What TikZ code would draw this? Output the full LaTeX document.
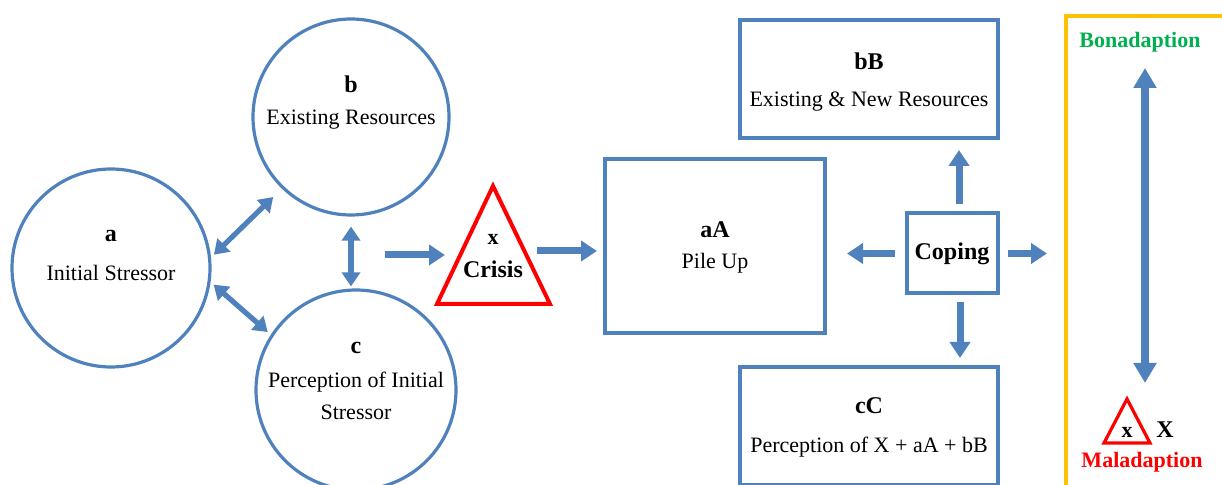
\documentclass[tikz,border=0pt]{standalone}
\usepackage{fontspec}
\setmainfont{LiberationSerif}[Extension=.ttf, UprightFont=*-Regular, BoldFont=*-Bold, ItalicFont=*-Italic, BoldItalicFont=*-BoldItalic]
\usetikzlibrary{arrows.meta}
\definecolor{ofblue}{HTML}{4F81BD}
\definecolor{ofyellow}{HTML}{FFC000}
\definecolor{ofgreen}{HTML}{00B050}
\newcommand\lbl[1]{{\fontsize{12}{16}\selectfont\bfseries #1}}

\begin{document}
\begin{tikzpicture}[x=0.5pt, y=-0.5pt,
	every node/.style={font=\fontsize{11}{16}\selectfont, align=center, inner sep=0pt},
	ring/.style={draw=ofblue, line width=1.6pt, circle, minimum size=99pt},
	panel/.style={draw=ofblue, line width=2pt, rectangle},
	fat/.style={draw=ofblue, line width=3.5pt, -{Triangle[length=8pt,width=10pt]}},
	twoway/.style={draw=ofblue, line width=2.6pt, {Triangle[length=7pt,width=9pt]}-{Triangle[length=7pt,width=9pt]}},
	alarm/.style={draw=red, line width=2pt, line join=miter}]
		\useasboundingbox (0,0) rectangle (1222,485);
		\clip (0,0) rectangle (1222,485);

		\node[ring] (a) at (111,268) {};
		\node (a-t) at (111,255) {\lbl{a}\\[3.5pt]Initial Stressor};
		\node[ring, minimum size=98pt] (b) at (351,117) {};
		\node (b-t) at (351,103) {\lbl{b}\\Existing Resources};
		\node[ring, minimum size=100pt] (c) at (356,390) {};
		\node (c-t) at (356,381) {\lbl{c}\\[1pt]Perception of Initial\\Stressor};

		\draw[twoway, shorten <=2pt, shorten >=6pt] (a.6) -- (b.226);
		\draw[twoway, shorten <=2pt, shorten >=2pt] (a.352) -- (c.147);
		\draw[twoway, shorten <=5pt, shorten >=1pt] (b.south) -- (b.south |- c.north);

		\draw[alarm] (493,186) -- (550,304) -- (437,304) -- cycle;
		\node (crisis) at (493,256) {\bfseries x\\[0.5pt]\lbl{Crisis}};
		\coordinate (bc-gap) at (385,255);
		\coordinate (crisis-in) at (445,255);
		\coordinate (crisis-out) at (537,251);
		\draw[fat] (bc-gap) -- (crisis-in);

		\node[panel, minimum width=110pt, minimum height=87pt] (aA) at (715,246) {};
		\node (aA-t) at (715,247) {\lbl{aA}\\[-0.5pt]Pile Up};
		\draw[fat, shorten >=3pt] (crisis-out) -- (aA.west |- crisis-out);

		\node[panel, minimum width=129pt, minimum height=59pt] (bB) at (869,79) {};
		\node (bB-t) at (869,82) {\lbl{bB}\\[2.5pt]Existing \& New Resources};
		\node[panel, minimum width=129pt, minimum height=59pt] (cC) at (869,426) {};
		\node (cC-t) at (869,427) {\lbl{cC}\\[3.5pt]Perception of X + aA + bB};

		\node[panel, minimum width=45.5pt, minimum height=40pt] (coping) at (952,253.5) {\lbl{Coping}};
		\coordinate (toward-frame) at (1047,253.5);
		\draw[fat, shorten <=3.5pt, shorten >=5pt] ([xshift=3.5pt]coping.north) -- ([xshift=3.5pt]coping.north |- bB.south);
		\draw[fat, shorten <=3.5pt, shorten >=3.5pt] ([xshift=4pt]coping.south) -- ([xshift=4pt]coping.south |- cC.north);
		\draw[fat, shorten <=5pt, shorten >=10pt] (coping.west) -- (coping.west -| aA.east);
		\draw[fat, shorten <=4pt] (coping.east) -- (toward-frame);

		\draw[ofyellow, line width=1.6pt] (1066,485) -- (1066,16) -- (1222,16);
		\node[text=ofgreen] (bona) at (1140,42) {\bfseries Bonadaption};
		\node[text=red] (mala) at (1142,462) {\bfseries Maladaption};
		\draw[alarm, line width=1.6pt] (1127,399) -- (1150,443) -- (1104,443) -- cycle;
		\node (mal-x) at (1127,432) {\bfseries x};
		\node (mal-X) at (1165,430) {\lbl{X}};
		\coordinate (scale-top) at (1145,68);
		\coordinate (scale-bottom) at (1145,383);
		\draw[twoway, line width=4pt, {Triangle[length=10pt,width=11pt]}-{Triangle[length=10pt,width=11pt]}] (scale-top) -- (scale-bottom);
	\end{tikzpicture}
\end{document}
